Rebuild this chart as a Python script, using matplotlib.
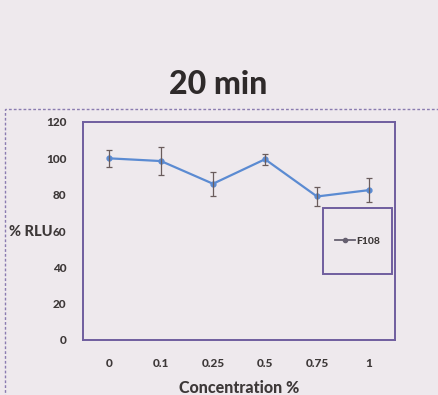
import matplotlib
matplotlib.use("Agg")
import matplotlib.pyplot as plt
from matplotlib.patches import Rectangle

# Data
concentrations = ["0", "0.1", "0.25", "0.5", "0.75", "1"]
rlu_f108 = [100, 98.5, 86, 99.5, 79, 82.5]
rlu_err = [4.5, 7.5, 6.5, 3, 5, 6.5]
y_ticks = [0, 20, 40, 60, 80, 100, 120]

BG = "#eee9ed"
FRAME = "#6f5e9e"
TEXT = "#3d3838"
LINE = "#5b8bd2"

plt.rcParams["font.family"] = ["Lato", "DejaVu Sans"]

fig = plt.figure(figsize=(4.38, 3.95), dpi=100, facecolor=BG)

# Dashed outer border of the chart area
fig.patches.append(Rectangle((5 / 438, -0.05), 1.0, 1 - 109 / 395 + 0.05,
                             transform=fig.transFigure, fill=False,
                             edgecolor="#8a7bb0", linewidth=1.0,
                             linestyle=(0, (2, 1.5))))

fig.text(218 / 438, 1 - 84 / 395, "20 min", ha="center", va="center",
         fontsize=23, fontweight="black", color="#2e2a2a")

ax = fig.add_axes([83 / 438, 1 - 340 / 395, 312 / 438, 218 / 395])
ax.set_facecolor(BG)

line, = ax.plot(concentrations, rlu_f108, color=LINE, linewidth=1.6,
                marker="o", markersize=3.5, label="F108")
ax.errorbar(concentrations, rlu_f108, yerr=rlu_err, fmt="none",
            ecolor="#6a5c5c", elinewidth=0.9, capsize=2.2, capthick=0.9)

ax.set_ylim(0, 120)
ax.set_yticks(y_ticks)
ax.set_xlim(-0.5, len(concentrations) - 0.5)
ax.tick_params(axis="both", length=0, labelsize=8.5, labelcolor=TEXT)
ax.tick_params(axis="y", pad=12)
ax.tick_params(axis="x", pad=13)
for lbl in ax.get_xticklabels() + ax.get_yticklabels():
    lbl.set_fontweight("black")

for s in ax.spines.values():
    s.set_color(FRAME)
    s.set_linewidth(1.4)

ax.set_xlabel("Concentration %", fontsize=11.5, fontweight="black",
              color=TEXT, labelpad=8)
fig.text(9 / 438, 1 - 232 / 395, "% RLU", ha="left", va="center",
         fontsize=10.5, fontweight="black", color=TEXT)

# Legend box drawn as a fixed rectangle, entry centred inside it
lx0, lx1, ly0, ly1 = 323, 392, 208, 274
fig.patches.append(Rectangle((lx0 / 438, 1 - ly1 / 395), (lx1 - lx0) / 438,
                             (ly1 - ly0) / 395, transform=fig.transFigure,
                             fill=True, facecolor=BG, edgecolor=FRAME,
                             linewidth=1.4, zorder=5))
leg = fig.legend(handles=[line], loc="center",
                 bbox_to_anchor=((lx0 + lx1) / 2 / 438,
                                 1 - (ly0 + ly1) / 2 / 395),
                 frameon=False, fontsize=7.5, handlelength=2.0,
                 handletextpad=0.1, borderpad=0)
leg.set_zorder(6)
for t in leg.get_texts():
    t.set_fontweight("black")
    t.set_color(TEXT)
for h in leg.legend_handles:
    h.set_color("#666070")
    h.set_markersize(3)
    h.set_linewidth(1.3)

fig.savefig("out.png", dpi=100, facecolor=BG)
